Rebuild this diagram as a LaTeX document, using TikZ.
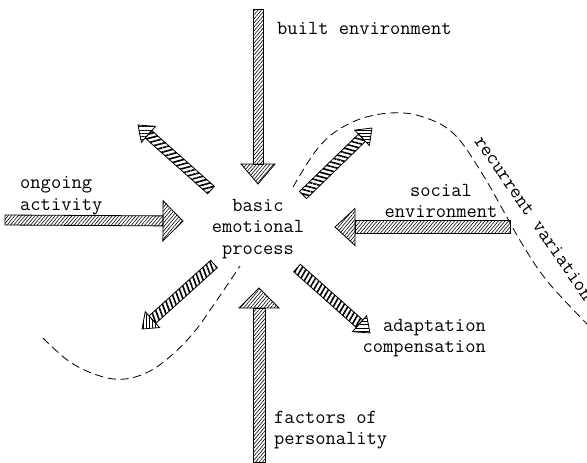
\documentclass[tikz,border=0pt]{standalone}
\usepackage{fontspec}
\usetikzlibrary{calc,patterns.meta}

\tikzset{
  lbl/.style={font=\ttfamily\fontsize{17}{18.5}\selectfont, inner sep=0pt},
  bigpart/.style={draw, line width=0.7pt, pattern={Lines[angle=50,distance=2.2pt,line width=0.5pt]}},
  thinshaft/.style={draw, line width=0.7pt, pattern={Lines[angle=#1,distance=3.6pt,line width=1.4pt]}},
  thinhead/.style={draw, line width=0.7pt, pattern={Lines[angle=#1,distance=2.6pt,line width=0.8pt]}},
  wave/.style={dash pattern=on 7pt off 4pt, line width=0.7pt},
}

% #1 shaft style, #2 head style, #3 tail, #4 tip, #5 half shaft, #6 half head, #7 head length
\newcommand\hatcharrow[7]{%
  \coordinate (hb) at ($(#4)!#7!(#3)$);
  \draw[#1] ($(#3)!#5!90:(#4)$) -- ($(hb)!#5!90:(#4)$) -- ($(hb)!#5!-90:(#4)$) -- ($(#3)!#5!-90:(#4)$) -- cycle;
  \draw[#2] ($(hb)!#6!90:(#4)$) -- (#4) -- ($(hb)!#6!-90:(#4)$) -- cycle;
}

\begin{document}
\begin{tikzpicture}[x=0.03cm, y=-0.03cm]
        \useasboundingbox (0,0) rectangle (587,462);

        \node[lbl, align=center] (core) at (258,229) {basic\\emotional\\process};
        \node[lbl, anchor=west] (built) at (277,28) {built environment};
        \node[lbl, align=left, anchor=west] (ongoing) at (20,196) {ongoing\\activity};
        \node[lbl, align=center] (social) at (441,201) {social\\environment};
        \node[lbl, align=right, anchor=east] (adapt) at (486,338) {adaptation\\compensation};
        \node[lbl, align=left, anchor=west] (factors) at (274,430) {factors of\\personality};
        \node[lbl, rotate=-55.5] (recur) at (534,218) {recurrent variation};

        % incoming arrows
        \coordinate (built-tail) at (258,9);    \coordinate (built-tip) at (258,184);
        \coordinate (ongoing-tail) at (5,220);  \coordinate (ongoing-tip) at (183,221);
        \coordinate (social-tail) at (510,227); \coordinate (social-tip) at (335,227);
        \coordinate (factors-tail) at (259,462);\coordinate (factors-tip) at (259,288);
        \hatcharrow{bigpart}{bigpart}{built-tail}{built-tip}{0.15cm}{0.51cm}{0.6cm}
        \hatcharrow{bigpart}{bigpart}{ongoing-tail}{ongoing-tip}{0.15cm}{0.6cm}{0.6cm}
        \hatcharrow{bigpart}{bigpart}{social-tail}{social-tip}{0.2cm}{0.555cm}{0.6cm}
        \hatcharrow{bigpart}{bigpart}{factors-tail}{factors-tip}{0.18cm}{0.6cm}{0.6cm}

        % outgoing arrows
        \coordinate (ul-tail) at (211,190); \coordinate (ul-tip) at (138,125);
        \coordinate (ur-tail) at (303,195); \coordinate (ur-tip) at (372,128);
        \coordinate (ll-tail) at (214,264); \coordinate (ll-tip) at (142,329);
        \coordinate (lr-tail) at (297,268); \coordinate (lr-tip) at (370,333);
        \hatcharrow{thinshaft=15}{thinhead=0}{ul-tail}{ul-tip}{0.15cm}{0.32cm}{0.42cm}
        \hatcharrow{thinshaft=165}{thinhead=0}{ur-tail}{ur-tip}{0.15cm}{0.32cm}{0.42cm}
        \hatcharrow{thinshaft=110}{thinhead=90}{ll-tail}{ll-tip}{0.15cm}{0.32cm}{0.42cm}
        \hatcharrow{thinshaft=60}{thinhead=0}{lr-tail}{lr-tip}{0.15cm}{0.32cm}{0.42cm}

        % recurrent variation
        \draw[wave] plot[smooth, tension=0.6] coordinates {(43,338) (70,362) (100,376) (125,379) (150,371) (173,354) (195,331) (217,300) (240,266)};
        \draw[wave] plot[smooth, tension=0.6] coordinates {(293,187) (305,167) (318,148) (335,132) (360,119) (390,113) (420,116) (453,133) (483,175) (521,242) (548,282) (590,327)};
\end{tikzpicture}
\end{document}
